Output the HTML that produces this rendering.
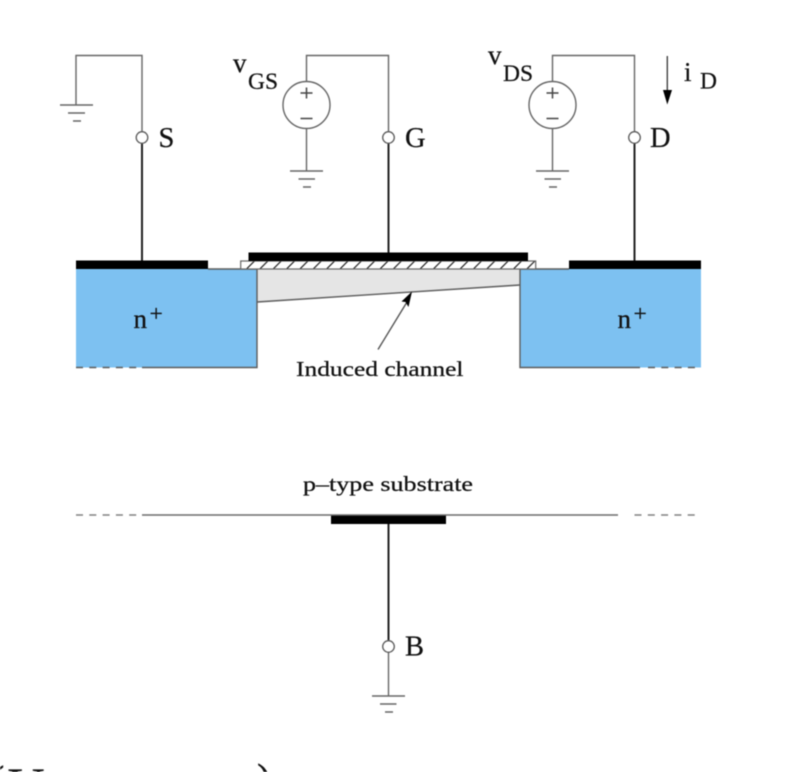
<!DOCTYPE html>
<html>
<head>
<meta charset="utf-8">
<style>
html,body{margin:0;padding:0;background:#fff;width:798px;height:772px;overflow:hidden}
svg{display:block;filter:blur(0.45px)}
text{font-family:"Liberation Serif",serif;fill:#111;stroke:#111;stroke-width:0.25px}
</style>
</head>
<body>
<svg width="798" height="772" viewBox="0 0 798 772" xmlns="http://www.w3.org/2000/svg">
<defs>
<pattern id="h" patternUnits="userSpaceOnUse" width="13.35" height="8" patternTransform="translate(246.5 261)">
<line x1="-1" y1="9" x2="9" y2="-1" stroke="#222" stroke-width="1.2"/>
</pattern>
<clipPath id="frame"><rect x="0" y="0" width="798" height="772"/></clipPath>
</defs>
<rect width="798" height="772" fill="#fff"/>

<!-- n+ wells -->
<rect x="76" y="269" width="181" height="98.5" fill="#7dc1f1"/>
<rect x="520" y="269" width="181" height="98.5" fill="#7dc1f1"/>
<polygon points="257,269 520,269 520,285 257,302" fill="#e5e5e5"/>

<g fill="none" stroke="#5c5c5c" stroke-width="1.4">
<polyline points="208,269 257,269 257,367.5 142,367.5"/>
<polyline points="569,269 520,269 520,367.5 640,367.5"/>
<line x1="76" y1="367.5" x2="142" y2="367.5" stroke-dasharray="7 6.3"/>
<line x1="648" y1="367.5" x2="696" y2="367.5" stroke-dasharray="7 6.3"/>
<line x1="257" y1="302" x2="520" y2="285"/>
</g>

<!-- oxide -->
<rect x="240.7" y="261" width="295" height="8" fill="#fff"/>
<rect x="240.7" y="261" width="295" height="8" fill="url(#h)" stroke="#666" stroke-width="1.2"/>

<!-- metal -->
<rect x="76" y="260.5" width="132" height="8.5" fill="#000"/>
<rect x="569" y="260.5" width="132" height="8.5" fill="#000"/>
<rect x="248.5" y="252.5" width="279.5" height="8.5" fill="#000"/>
<rect x="331" y="515" width="115" height="9" fill="#000"/>

<!-- thin wiring -->
<g fill="none" stroke="#666" stroke-width="1.4">
<polyline points="76,105 76,55.5 142,55.5 142,131"/>
<polyline points="306.5,81.5 306.5,55.5 388.5,55.5 388.5,131"/>
<polyline points="552.5,81.5 552.5,55.5 634.5,55.5 634.5,131"/>
<line x1="306.5" y1="128.5" x2="306.5" y2="171"/>
<line x1="552.5" y1="128.5" x2="552.5" y2="171"/>
<line x1="388.5" y1="652.5" x2="388.5" y2="696"/>
<circle cx="306.5" cy="105" r="23.5"/>
<circle cx="552.5" cy="105" r="23.5"/>
<!-- grounds -->
<path d="M60 105H93M68 113H85M73 121H81"/>
<path d="M290 171H323M298.5 179H315M303 187H311"/>
<path d="M536 171H569M544.5 179H561M549 187H557"/>
<path d="M372 696H405M380 704H396.5M385 712H393"/>
</g>
<!-- plus / minus -->
<g fill="none" stroke="#444" stroke-width="1.5">
<path d="M300.5 93H312.5M306.5 87.5V98.5M300.5 118.5H312.5"/>
<path d="M546.5 93H558.5M552.5 87.5V98.5M546.5 118.5H558.5"/>
</g>

<!-- thick terminals -->
<g stroke="#222" stroke-width="2" fill="none">
<line x1="142" y1="143" x2="142" y2="260.5"/>
<line x1="388.5" y1="143" x2="388.5" y2="252.5"/>
<line x1="634.5" y1="143" x2="634.5" y2="260.5"/>
<line x1="388.5" y1="524" x2="388.5" y2="640"/>
</g>

<!-- terminal circles -->
<g fill="#fff" stroke="#5c5c5c" stroke-width="1.3">
<circle cx="142" cy="137.5" r="5.8"/>
<circle cx="388.5" cy="137.5" r="5.8"/>
<circle cx="634.5" cy="137.5" r="5.8"/>
<circle cx="388.5" cy="646.5" r="5.8"/>
</g>

<!-- substrate line -->
<line x1="142" y1="515" x2="618" y2="515" stroke="#6c6c6c" stroke-width="1.5"/>
<line x1="76" y1="515" x2="140" y2="515" stroke="#808080" stroke-width="1.5" stroke-dasharray="7 6.3"/>
<line x1="634.5" y1="515" x2="695" y2="515" stroke="#808080" stroke-width="1.5" stroke-dasharray="7 6.3"/>

<!-- arrows -->
<line x1="378" y1="349.5" x2="407" y2="302" stroke="#555" stroke-width="1.4"/>
<polygon points="412,291.5 408.5,307 405.5,302 401.5,301.5" fill="#000"/>
<line x1="667.3" y1="56" x2="667.3" y2="92" stroke="#444" stroke-width="1.4"/>
<polygon points="663,90 672,90 667.3,104.5" fill="#000"/>

<!-- labels -->
<g font-size="28.5">
<text x="158.5" y="147">S</text>
<text x="405" y="147">G</text>
<text x="650" y="147">D</text>
<text x="405" y="655.5">B</text>
</g>
<g font-size="27">
<text x="233" y="72">v</text>
<text x="488" y="64">v</text>
<text x="684" y="81">i</text>
<text x="133.5" y="328">n</text>
<text x="617.5" y="328">n</text>
</g>
<g font-size="23.5">
<text x="248" y="89">GS</text>
<text x="503" y="81">DS</text>
<text x="700" y="88.5">D</text>
<text x="149.5" y="321">+</text>
<text x="633.5" y="321">+</text>
</g>
<text x="296" y="376" font-size="21" textLength="167.5" lengthAdjust="spacingAndGlyphs">Induced channel</text>
<text x="303" y="491" font-size="21" textLength="170" lengthAdjust="spacingAndGlyphs">p–type substrate</text>

<!-- cropped text at bottom edge -->
<g clip-path="url(#frame)">
<text x="-12" y="800" font-size="50">(</text>
<text x="8" y="802" font-size="50">V</text>
<text x="257" y="793" font-size="42">)</text>
</g>
</svg>
</body>
</html>
